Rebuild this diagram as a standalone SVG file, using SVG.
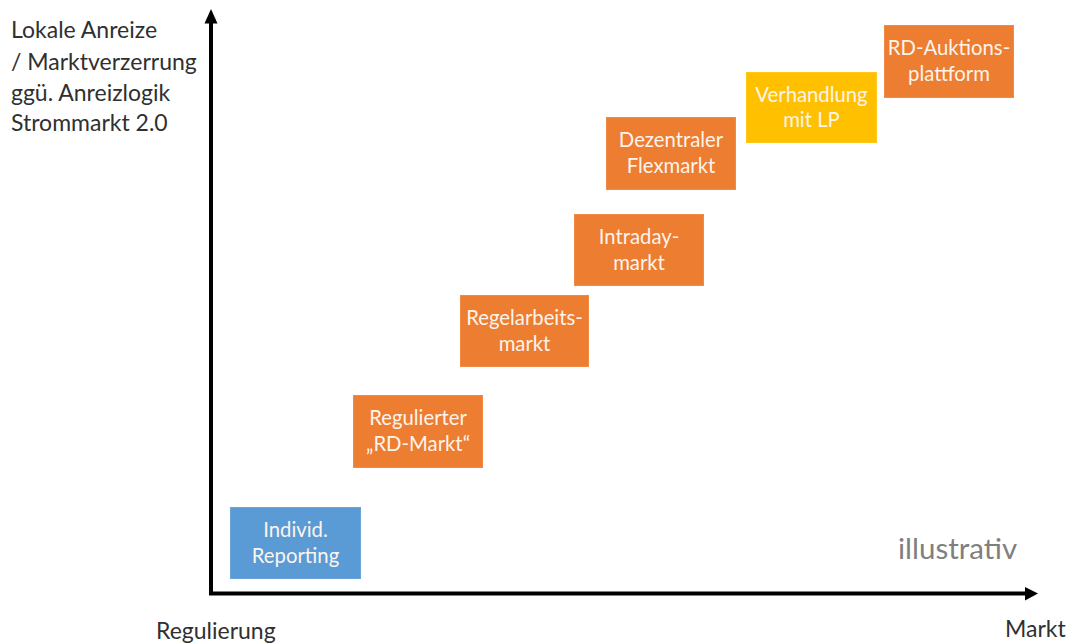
<svg xmlns="http://www.w3.org/2000/svg" width="1079" height="644" viewBox="0 0 1079 644">
  <defs>
    <style>
      .box { stroke-width: 1; }
      .orange { fill: #ED7D31; stroke: #F08A45; }
      .blue { fill: #5B9BD5; stroke: #6AA5DA; }
      .yellow { fill: #FFC000; stroke: #FFC71A; }
      .btxt { font-family: Lato, "Open Sans", "Liberation Sans", sans-serif; font-weight: 400; font-size: 20.3px; fill: #FCF4EC; text-anchor: middle; }
      .ax { font-family: Lato, "Open Sans", "Liberation Sans", sans-serif; font-weight: 400; font-size: 23px; fill: #303030; }
      .axis { fill: none; stroke: #000; stroke-width: 4; stroke-linejoin: miter; }
      .head { fill: #000; }
    </style>
  </defs>
  <rect width="1079" height="644" fill="#FFFFFF"/>

  <!-- axes -->
  <g id="connectors">
    <path class="axis" d="M211,22 L211,593.5 L1026,593.5"/>
    <polygon class="head" points="211,9 204.5,23.5 217.5,23.5"/>
    <polygon class="head" points="1038,593.5 1025,587 1025,600.5"/>
  </g>

  <!-- axis labels -->
  <g id="y-label">
    <text class="ax" x="11" y="38">Lokale Anreize</text>
    <text class="ax" x="11" y="70">/ Marktverzerrung</text>
    <text class="ax" x="11" y="101">ggü. Anreizlogik</text>
    <text class="ax" x="11" y="131">Strommarkt 2.0</text>
  </g>
  <g id="x-label-left">
    <text class="ax" x="156" y="639">Regulierung</text>
  </g>
  <g id="x-label-right">
    <text class="ax" x="1005" y="637" font-size="24px">Markt</text>
  </g>
  <g id="note">
    <text x="898" y="559" font-family="Lato, 'Open Sans', 'Liberation Sans', sans-serif" font-weight="400" font-size="29.5px" fill="#7F7F7F">illustrativ</text>
  </g>

  <!-- nodes -->
  <g id="individ-reporting">
    <rect class="box blue" x="230.5" y="507.5" width="130" height="71"/>
    <text class="btxt" x="295.5" y="537">Individ.</text>
    <text class="btxt" x="295.5" y="563">Reporting</text>
  </g>
  <g id="regulierter-rd-markt">
    <rect class="box orange" x="353.5" y="395.5" width="129" height="72"/>
    <text class="btxt" x="418" y="425">Regulierter</text>
    <text class="btxt" x="418" y="451">„RD-Markt“</text>
  </g>
  <g id="regelarbeitsmarkt">
    <rect class="box orange" x="460.5" y="295.5" width="128" height="71"/>
    <text class="btxt" x="524.5" y="325">Regelarbeits-</text>
    <text class="btxt" x="524.5" y="351">markt</text>
  </g>
  <g id="intradaymarkt">
    <rect class="box orange" x="574.5" y="214.5" width="129" height="71"/>
    <text class="btxt" x="639" y="244">Intraday-</text>
    <text class="btxt" x="639" y="270">markt</text>
  </g>
  <g id="dezentraler-flexmarkt">
    <rect class="box orange" x="606.5" y="117.5" width="129" height="72"/>
    <text class="btxt" x="671" y="147">Dezentraler</text>
    <text class="btxt" x="671" y="173">Flexmarkt</text>
  </g>
  <g id="verhandlung-mit-lp">
    <rect class="box yellow" x="746.5" y="72.5" width="130" height="70"/>
    <text class="btxt" x="811.5" y="102">Verhandlung</text>
    <text class="btxt" x="811.5" y="127">mit LP</text>
  </g>
  <g id="rd-auktionsplattform">
    <rect class="box orange" x="884.5" y="25.5" width="129" height="72"/>
    <text class="btxt" x="949" y="55">RD-Auktions-</text>
    <text class="btxt" x="949" y="81">plattform</text>
  </g>
</svg>
